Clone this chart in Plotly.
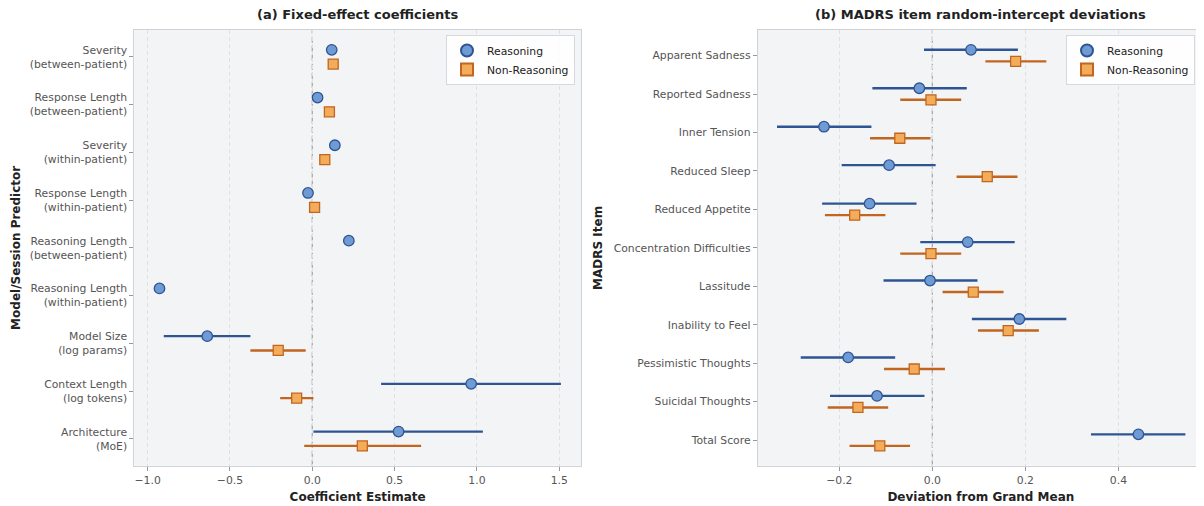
import plotly.graph_objects as go

# ---------------- Data ----------------
fixed_predictors = [
    "Severity<br>(between-patient)",
    "Response Length<br>(between-patient)",
    "Severity<br>(within-patient)",
    "Response Length<br>(within-patient)",
    "Reasoning Length<br>(between-patient)",
    "Reasoning Length<br>(within-patient)",
    "Model Size<br>(log params)",
    "Context Length<br>(log tokens)",
    "Architecture<br>(MoE)",
]
fixed_reason_est = [0.118, 0.032, 0.137, -0.026, 0.222, -0.928, -0.638, 0.965, 0.524]
fixed_reason_lo = [0.110, 0.026, 0.129, -0.032, 0.216, -0.938, -0.902, 0.418, 0.007]
fixed_reason_hi = [0.126, 0.038, 0.145, -0.020, 0.228, -0.918, -0.376, 1.510, 1.036]
fixed_nonreason_est = [0.127, 0.104, 0.076, 0.014, None, None, -0.207, -0.095, 0.304]
fixed_nonreason_lo = [0.119, 0.092, 0.070, 0.008, None, None, -0.376, -0.195, -0.049]
fixed_nonreason_hi = [0.135, 0.116, 0.082, 0.020, None, None, -0.040, 0.007, 0.661]

madrs_items = [
    "Apparent Sadness", "Reported Sadness", "Inner Tension", "Reduced Sleep",
    "Reduced Appetite", "Concentration Difficulties", "Lassitude",
    "Inability to Feel", "Pessimistic Thoughts", "Suicidal Thoughts", "Total Score",
]
madrs_reason_est = [0.083, -0.028, -0.233, -0.093, -0.135, 0.076, -0.005, 0.187, -0.181, -0.119, 0.443]
madrs_reason_lo = [-0.018, -0.129, -0.334, -0.195, -0.237, -0.026, -0.105, 0.085, -0.283, -0.220, 0.341]
madrs_reason_hi = [0.184, 0.074, -0.131, 0.007, -0.034, 0.177, 0.097, 0.288, -0.080, -0.017, 0.544]
madrs_nonreason_est = [0.179, -0.003, -0.070, 0.118, -0.167, -0.003, 0.088, 0.163, -0.039, -0.160, -0.113]
madrs_nonreason_lo = [0.114, -0.069, -0.134, 0.052, -0.231, -0.069, 0.022, 0.098, -0.104, -0.225, -0.178]
madrs_nonreason_hi = [0.245, 0.062, -0.004, 0.183, -0.101, 0.062, 0.153, 0.229, 0.027, -0.095, -0.048]

OFFSET = 0.15

# ---------------- Styles ----------------
R_FILL, R_EDGE, R_LINE = "#6f9bd4", "#2f5493", "#2f5493"
N_FILL, N_EDGE, N_LINE = "#f3ad5a", "#c2651f", "#c2651f"
BG = "#f3f4f6"
FONT = "DejaVu Sans"

# the page body has an 8px margin; figure sized so that it fills the window
PAGE_OFF = 8
W, H = 1204 - PAGE_OFF, 506 - PAGE_OFF


def px(v):
    return v - PAGE_OFF


def add_series(fig, est, lo, hi, offset, name, symbol, fill, edge, line, xa, ya, legend, size):
    ys, xs, plus, minus = [], [], [], []
    for i, (e, l, h) in enumerate(zip(est, lo, hi)):
        if e is None:
            continue
        ys.append(i + offset)
        xs.append(e)
        plus.append(h - e)
        minus.append(e - l)
    fig.add_trace(go.Scatter(
        x=xs, y=ys, mode="markers", name=name,
        xaxis=xa, yaxis=ya, legend=legend,
        marker=dict(symbol=symbol, size=size, color=fill, line=dict(color=edge, width=1.3)),
        error_x=dict(type="data", symmetric=False, array=plus, arrayminus=minus,
                     color=line, thickness=2.4, width=0),
    ))


fig = go.Figure()
add_series(fig, fixed_reason_est, fixed_reason_lo, fixed_reason_hi, -OFFSET, "Reasoning",
           "circle", R_FILL, R_EDGE, R_LINE, "x", "y", "legend", 10.5)
add_series(fig, fixed_nonreason_est, fixed_nonreason_lo, fixed_nonreason_hi, OFFSET, "Non-Reasoning",
           "square", N_FILL, N_EDGE, N_LINE, "x", "y", "legend", 10)
add_series(fig, madrs_reason_est, madrs_reason_lo, madrs_reason_hi, -OFFSET, "Reasoning",
           "circle", R_FILL, R_EDGE, R_LINE, "x2", "y2", "legend2", 10.5)
add_series(fig, madrs_nonreason_est, madrs_nonreason_lo, madrs_nonreason_hi, OFFSET, "Non-Reasoning",
           "square", N_FILL, N_EDGE, N_LINE, "x2", "y2", "legend2", 10)

# pixel layout (page coordinates of the reference)
L1, R1 = px(134.3), px(581.0)
L2, R2 = px(757.7), px(1204.0)
TOP, BOT = px(30.0), px(465.7)
ydom = [1 - BOT / H, 1 - TOP / H]

tickfont = dict(family=FONT, size=10.8, color="#555555")
titlefont = dict(family=FONT, size=12, color="#222222", weight="bold")

common_x = dict(
    showgrid=True, gridcolor="#dfe0e3", griddash="4px,3px", gridwidth=0.8,
    zeroline=False, showline=True, linecolor="#cfd3d8", linewidth=1, mirror=True,
    ticks="outside", ticklen=4, tickcolor="#999999", tickfont=tickfont,
    automargin=False,
)
common_y = dict(
    showgrid=False, zeroline=False, showline=True, linecolor="#cfd3d8", linewidth=1, mirror=True,
    ticks="outside", ticklen=4, tickcolor="#999999", tickfont=tickfont,
    automargin=False,
)

legend_common = dict(
    xanchor="right", yanchor="top",
    bgcolor="rgba(255,255,255,0.85)", bordercolor="#d5d8dc", borderwidth=1,
    font=dict(family=FONT, size=10.8, color="#222222"),
    itemsizing="constant", tracegroupgap=0, itemwidth=30,
)

fig.update_layout(
    width=W, height=H,
    margin=dict(l=0, r=0, t=0, b=0),
    paper_bgcolor="white", plot_bgcolor=BG,
    font=dict(family=FONT),
    xaxis=dict(common_x, domain=[L1 / W, R1 / W], range=[-1.081, 1.632],
               tickvals=[-1.0, -0.5, 0.0, 0.5, 1.0, 1.5],
               ticktext=["\u22121.0", "\u22120.5", "0.0", "0.5", "1.0", "1.5"],
               title=dict(text="Coefficient Estimate", font=titlefont, standoff=6),
               anchor="y"),
    yaxis=dict(common_y, domain=ydom, range=[len(fixed_predictors) - 1 + 0.565, -0.565],
               tickvals=list(range(len(fixed_predictors))), ticktext=fixed_predictors,
               title=dict(text="Model/Session Predictor", font=titlefont, standoff=6),
               anchor="x"),
    xaxis2=dict(common_x, domain=[L2 / W, min(R2 / W, 1.0)], range=[-0.3755, 0.584],
                tickvals=[-0.2, 0.0, 0.2, 0.4],
                ticktext=["\u22120.2", "0.0", "0.2", "0.4"],
                title=dict(text="Deviation from Grand Mean", font=titlefont, standoff=6),
                anchor="y2"),
    yaxis2=dict(common_y, domain=ydom, range=[len(madrs_items) - 1 + 0.665, -0.665],
                tickvals=list(range(len(madrs_items))), ticktext=madrs_items,
                title=dict(text="MADRS Item", font=titlefont, standoff=8),
                anchor="x2"),
    legend=dict(legend_common, x=px(575) / W, y=1 - px(35) / H),
    legend2=dict(legend_common, x=px(1195) / W, y=1 - px(35) / H),
    showlegend=True,
    annotations=[
        dict(text="<b>(a) Fixed-effect coefficients</b>", x=(L1 + R1) / 2 / W, y=1 - px(15) / H,
             xref="paper", yref="paper", showarrow=False, xanchor="center", yanchor="middle",
             font=dict(family=FONT, size=13, color="#222222")),
        dict(text="<b>(b) MADRS item random-intercept deviations</b>", x=(L2 + R2) / 2 / W,
             y=1 - px(15) / H, xref="paper", yref="paper", showarrow=False,
             xanchor="center", yanchor="middle",
             font=dict(family=FONT, size=13, color="#222222")),
    ],
    shapes=[
        dict(type="line", xref="x", yref="y domain", x0=0, x1=0, y0=0, y1=1,
             line=dict(color="#a9a9a9", width=1.3, dash="6px,3px"), layer="below"),
        dict(type="line", xref="x2", yref="y2 domain", x0=0, x1=0, y0=0, y1=1,
             line=dict(color="#a9a9a9", width=1.3, dash="6px,3px"), layer="below"),
    ],
)

fig.write_html("out.html")
